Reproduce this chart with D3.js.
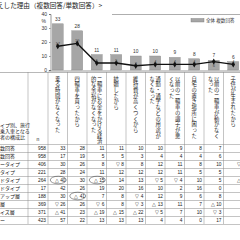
<!DOCTYPE html>
<html><head><meta charset="utf-8">
<script src="https://cdn.jsdelivr.net/npm/d3@7"></script>
<style>body{margin:0;background:#fff}svg{display:block;font-family:"Noto Sans CJK JP","Noto Sans",sans-serif}
.vt{writing-mode:vertical-rl;text-orientation:upright}</style>
</head><body><svg id="c" width="240" height="240"></svg>
<script>
const categories = ["乗る時間がなくなった","四輪車を買ったから","二輪車にお金をかける経済的な余裕がなくなった","結婚したから","維持費が高くつくから","通勤・通学などの用途がなくなった","以前の二輪車の調子が悪くなった","自宅の置き場所に困った","以前の二輪車が動かなくなった","子供が生まれたから"];
const categoryLines = [["乗る時間がなくなった"],["四輪車を買ったから"],["二輪車にお金をかける経済","的な余裕がなくなった"],["結婚したから"],["維持費が高くつくから"],["通勤・通学などの用途が","なくなった"],["以前の二輪車の調子が悪","くなった"],["自宅の置き場所に困った"],["以前の二輪車が動かなく","なった"],["子供が生まれたから"]];
const multiValues = [33,28,11,11,10,10,9,8,7,6];
const singleValues = [17,19,5,5,3,4,4,4,6,4];
const yTicks = [0,10,20,30,40];
const rowLabels = ["数回答","数回答","ータイプ","タイプ","ドタイプ","ドタイプ","アップ層","層","イズ層","ー"];
const rowN = ["958","958","406","221","264","17","188","369","371","423"];
const tableValues = [
 ["33","28","11","11","10","10","9","8","7",""],
 ["17","19","5","5","3","4","4","4","6",""],
 ["30","26","8","▽ 8","8","12","11","8","10","▽"],
 ["28","24","11","12","12","12","11","5","5",""],
 ["△ 40","30","△ 15","14","13","▽ 5","▽ 4","10","5","△"],
 ["42","26","19","20","16","10","2","16","0",""],
 ["30","△ 41","7","8","▽ 4","12","9","6","8",""],
 ["▽ 26","26","▽ 6","8","▽ 3","△ 13","11","7","△ 10",""],
 ["△ 41","23","△ 19","△ 15","△ 22","▽ 5","7","10","▽ 3",""],
 ["57","22","13","13","13","4","4","0","17",""]
];
const circledCells = [[4,0],[4,2],[6,1]];
const headerNote = ["イプ別、旅行","乗入車となる","者の構成比"];

const svg = d3.select("#c");
const colX0 = 48, colW = 19.5;
const x = d3.scaleBand().domain(categories).range([colX0, colX0 + colW*categories.length]).paddingInner(0.44).paddingOuter(0.22);
const y = d3.scaleLinear().domain([0,40]).range([70,14]);
const lineCol = "#888";
const num = "Liberation Sans, Arial, sans-serif";

// title
svg.append("text").attr("x",-3).attr("y",8).attr("font-size",6.6).attr("fill","#222")
  .text("えした理由（複数回答/単数回答）>");
svg.append("line").attr("x1",112).attr("x2",240).attr("y1",14.5).attr("y2",14.5).attr("stroke","#999").attr("stroke-width",0.8);

// legend
svg.append("rect").attr("x",191).attr("y",18.5).attr("width",13).attr("height",3.5).attr("fill","#a6a6a6").attr("stroke","#777").attr("stroke-width",0.4);
svg.append("text").attr("x",206).attr("y",22).attr("font-size",4.6).attr("fill","#333").text("全体 複数回答");

// y axis
const yAxis = svg.append("g").attr("transform","translate(50.5,0)").call(d3.axisLeft(y).tickValues(yTicks).tickSize(1.5).tickPadding(2));
yAxis.selectAll("path,line").attr("stroke","#555").attr("stroke-width",0.6);
yAxis.selectAll("text").attr("font-size",5).attr("fill","#333").attr("font-family",num);
svg.append("text").attr("x",46).attr("y",22.5).attr("text-anchor","end").attr("font-size",5).attr("fill","#333").attr("font-family",num).text("%");

// bars
svg.selectAll("rect.bar").data(multiValues).join("rect").attr("class","bar")
  .attr("x",(d,i)=>x(categories[i])).attr("width",x.bandwidth())
  .attr("y",d=>y(d)).attr("height",d=>y(0)-y(d))
  .attr("fill","#a6a6a6").attr("stroke","#888").attr("stroke-width",0.4);
svg.selectAll("text.bl").data(multiValues).join("text").attr("class","bl")
  .attr("x",(d,i)=>x(categories[i])+x.bandwidth()/2).attr("y",d=>y(d)-3)
  .attr("text-anchor","middle").attr("font-size",4.8).attr("fill","#333")
  .attr("font-family",num).text(d=>d);

// line
const cxOf = i => x(categories[i])+x.bandwidth()/2;
const line = d3.line().x((d,i)=>cxOf(i)).y(d=>y(d));
svg.append("path").datum(singleValues).attr("d",line).attr("fill","none").attr("stroke","#111").attr("stroke-width",1.4);
svg.selectAll("path.mk").data(singleValues).join("path").attr("class","mk")
  .attr("d",d3.symbol().type(d3.symbolDiamond).size(11))
  .attr("transform",(d,i)=>`translate(${cxOf(i)},${y(d)})`).attr("fill","#111");
svg.selectAll("text.ll").data(singleValues).join("text").attr("class","ll")
  .attr("x",(d,i)=>cxOf(i)).attr("y",(d,i)=> i===8 ? y(d)+5 : y(d)-1)
  .attr("text-anchor","middle").attr("font-size",4).attr("fill","#444")
  .attr("font-family",num).text(d=>d);

// x axis
const xAxis = svg.append("g").attr("transform","translate(0,70.5)")
  .call(d3.axisBottom(x).tickSize(0).tickFormat(""));
xAxis.selectAll("path").attr("stroke","#555").attr("stroke-width",0.6);

// table
const tTop = 72, hBot = 144, rowH = 8;
const tBot = hBot + rowH*rowLabels.length;
const g = svg.append("g");
g.append("line").attr("x1",0).attr("x2",240).attr("y1",tTop+0.5).attr("y2",tTop+0.5).attr("stroke",lineCol).attr("stroke-width",0.6);
const vlines = [28, colX0].concat(d3.range(1,categories.length).map(i=>colX0+colW*i));
g.selectAll("line.v").data(vlines).join("line").attr("class","v")
  .attr("x1",d=>d).attr("x2",d=>d).attr("y1",tTop).attr("y2",tBot).attr("stroke",lineCol).attr("stroke-width",0.5);
const hl = d3.range(0,rowLabels.length+1).map(i=>hBot+rowH*i);
g.selectAll("line.h").data(hl).join("line").attr("class","h")
  .attr("x1",0).attr("x2",240).attr("y1",d=>d+0.5).attr("y2",d=>d+0.5).attr("stroke",lineCol).attr("stroke-width",0.5);

// category headers (vertical writing)
categoryLines.forEach((lines,i)=>{
  const cx = cxOf(i);
  const n = lines.length;
  lines.forEach((ln,j)=>{
    const lx = cx + (n-1)*3 - j*6;
    g.append("text").attr("class","vt").attr("x",lx).attr("y",76)
      .attr("font-size",5.3).attr("letter-spacing",0.4).attr("fill","#222").text(ln);
  });
});
headerNote.forEach((t,i)=>g.append("text").attr("x",0).attr("y",127+i*6).attr("font-size",5).attr("fill","#222").text(t));
g.append("text").attr("x",38).attr("y",141).attr("text-anchor","middle").attr("font-size",5).attr("fill","#222")
  .attr("font-family",num).text("n");

// rows
rowLabels.forEach((lab,r)=>{
  const cy = hBot + rowH*r + rowH/2 + 2;
  g.append("text").attr("x",0).attr("y",cy).attr("font-size",5).attr("fill","#222").text(lab);
  g.append("text").attr("x",46).attr("y",cy).attr("text-anchor","end").attr("font-size",4.8).attr("fill","#222")
    .attr("font-family",num).text(rowN[r]);
  tableValues[r].forEach((v,c)=>{
    if(!v) return;
    g.append("text").attr("x",colX0+colW*(c+1)-2).attr("y",cy).attr("text-anchor","end").attr("font-size",4.8).attr("fill","#222")
      .attr("font-family",num).text(v);
  });
});
circledCells.forEach(([r,c])=>{
  g.append("ellipse").attr("cx",colX0+colW*c+colW/2+0.5).attr("cy",hBot+rowH*r+rowH/2)
    .attr("rx",8).attr("ry",3.8).attr("fill","none").attr("stroke","#333").attr("stroke-width",0.5);
});
</script></body></html>
